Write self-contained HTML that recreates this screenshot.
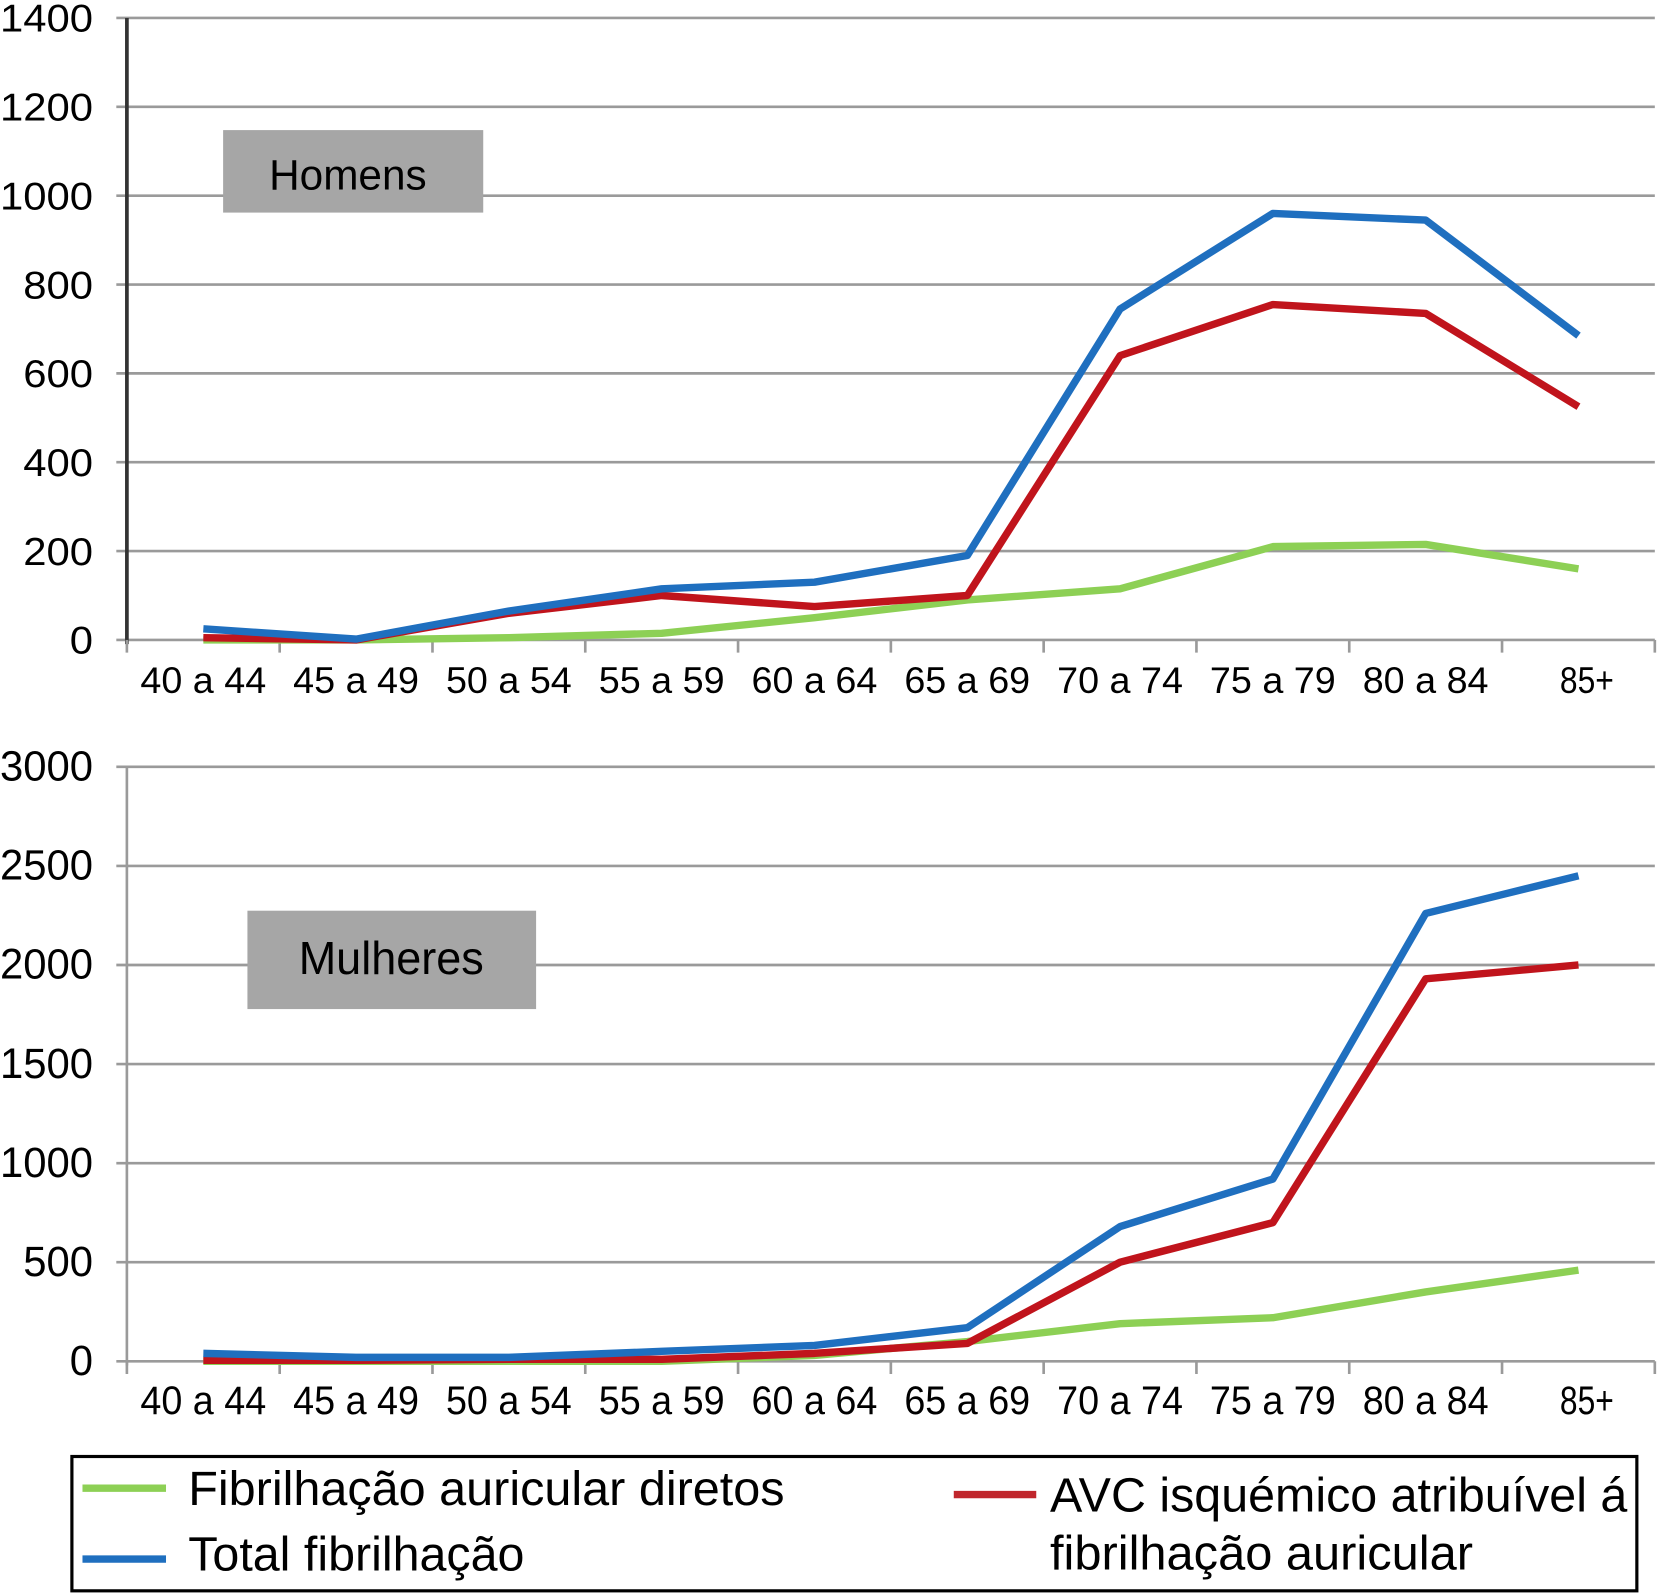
<!DOCTYPE html>
<html><head><meta charset="utf-8"><style>
html,body{margin:0;padding:0;background:#fff;}
svg{display:block;font-family:"Liberation Sans",sans-serif;}
</style></head><body>
<svg id="chart" width="1658" height="1594" viewBox="0 0 1568 1507" preserveAspectRatio="none" xmlns="http://www.w3.org/2000/svg">
<g id="top"></g>
<g id="bot"></g>
<rect x="211" y="123" width="246" height="78" fill="#a6a6a6"/>
<text x="329" y="179" font-size="40" text-anchor="middle">Homens</text>
<rect x="234" y="861" width="273" height="93" fill="#a6a6a6"/>
<text x="370" y="921" font-size="44" text-anchor="middle" textLength="175" lengthAdjust="spacingAndGlyphs">Mulheres</text>
<g>
<rect x="68" y="1377" width="1480" height="127" fill="#fff" stroke="#000" stroke-width="3"/>
<line x1="78" y1="1407" x2="157" y2="1407" stroke="#8dd055" stroke-width="7"/>
<text x="178" y="1423" font-size="46" textLength="564" lengthAdjust="spacingAndGlyphs">Fibrilhação auricular diretos</text>
<line x1="78" y1="1474" x2="157" y2="1474" stroke="#1f6fbf" stroke-width="7"/>
<text x="178" y="1485" font-size="46" textLength="318" lengthAdjust="spacingAndGlyphs">Total fibrilhação</text>
<line x1="902" y1="1413" x2="980" y2="1413" stroke="#c0262c" stroke-width="7"/>
<text x="993" y="1429" font-size="46" textLength="546" lengthAdjust="spacingAndGlyphs">AVC isquémico atribuível á</text>
<text x="993" y="1484" font-size="46" textLength="400" lengthAdjust="spacingAndGlyphs">fibrilhação auricular</text>
</g>
</svg>
<script>
const categories = ["40 a 44","45 a 49","50 a 54","55 a 59","60 a 64","65 a 69","70 a 74","75 a 79","80 a 84","85+"];
const homensTicks = [0,200,400,600,800,1000,1200,1400];
const homensTotal = [25,2,65,115,130,190,745,960,945,685];
const homensAvc = [5,0,60,100,75,100,640,755,735,525];
const homensDiretos = [0,0,5,15,50,90,115,210,215,160];
const mulheresTicks = [0,500,1000,1500,2000,2500,3000];
const mulheresTotal = [40,20,20,50,80,170,680,920,2260,2450];
const mulheresAvc = [5,5,10,10,40,90,500,700,1930,2000];
const mulheresDiretos = [0,0,0,0,30,100,190,220,350,460];

const NS = "http://www.w3.org/2000/svg";
function mk(parent, tag, attrs){const e=document.createElementNS(NS,tag);for(const k in attrs)e.setAttribute(k,attrs[k]);parent.appendChild(e);return e;}

function drawChart(g, cfg){
  const x0=120, x1=1565, cw=(x1-x0)/categories.length;
  const yMax=cfg.ticks[cfg.ticks.length-1];
  const y=v=>cfg.yb-(v/yMax)*(cfg.yb-cfg.yt);
  const x=i=>x0+cw*(i+0.5);
  cfg.ticks.forEach(t=>{
    const gl=mk(g,"line",{x1:x0-10,x2:x1,y1:y(t),y2:y(t),stroke:"#9a9a9a","stroke-width":2.5});
    
    
    const tl=mk(g,"text",{x:88,y:y(t)+13,"font-size":cfg.narrow?40:37,"text-anchor":"end"});
    tl.setAttribute("textLength",String(t).length*22);
    tl.setAttribute("lengthAdjust","spacingAndGlyphs");
    tl.textContent=t;
    
    
  });
  const ax=mk(g,"line",{x1:x0,x2:x0,y1:cfg.yt,y2:cfg.yb+4,stroke:cfg.axisColor,"stroke-width":cfg.axisW});
  
  
  for(let i=0;i<=categories.length;i++){
    const tk=mk(g,"line",{x1:x0+cw*i,x2:x0+cw*i,y1:cfg.yb,y2:cfg.yb+12,stroke:"#9a9a9a","stroke-width":2.5});
    
    
  }
  categories.forEach((c,i)=>{
    const t=mk(g,"text",{x:x(i)+(i==9?8:0),y:cfg.yb+50,"font-size":cfg.narrow?38:35,"text-anchor":"middle"});
    t.setAttribute("textLength",c.length*17);
    t.setAttribute("lengthAdjust","spacingAndGlyphs");
    t.textContent=c;
    
    
  });
  cfg.series.forEach(s=>{
    const d=s.values.map((v,i)=>(i?"L":"M")+x(i).toFixed(1)+","+y(v).toFixed(1)).join(" ");
    const p=mk(g,"path",{d:d,fill:"none",stroke:s.color,"stroke-width":cfg.lw,"stroke-linejoin":"round"});
    
    
  });
}
drawChart(document.getElementById("top"),{yt:17,yb:605,ticks:homensTicks,axisColor:"#333",axisW:3.5,lw:7,narrow:false,
  series:[{name:"diretos-line",values:homensDiretos,color:"#8dd055"},{name:"avc-line",values:homensAvc,color:"#c0141c"},{name:"total-line",values:homensTotal,color:"#1f6fbf"}]});
drawChart(document.getElementById("bot"),{yt:725,yb:1287,ticks:mulheresTicks,axisColor:"#9a9a9a",axisW:2.5,lw:7,narrow:true,
  series:[{name:"diretos-line",values:mulheresDiretos,color:"#8dd055"},{name:"avc-line",values:mulheresAvc,color:"#c0141c"},{name:"total-line",values:mulheresTotal,color:"#1f6fbf"}]});
</script>
</body></html>
